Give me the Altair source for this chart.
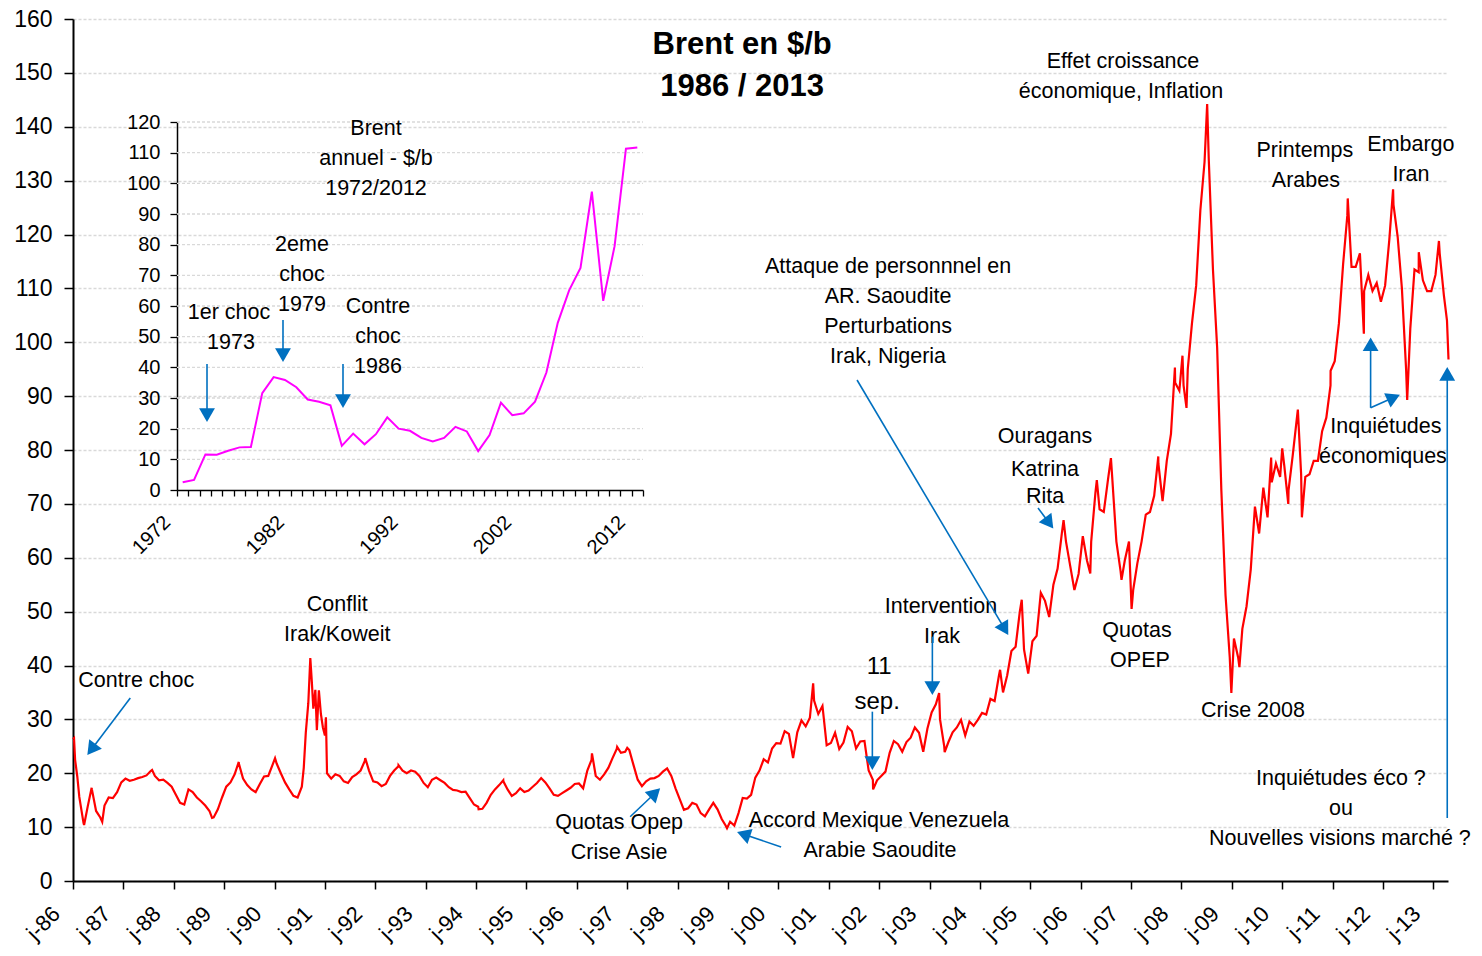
import math
import altair as alt
import pandas as pd

# ---------------- Main series (Brent, $/b) ----------------
# monthly levels (mid-month), one list per year
brent_1986 = [22.5, 15.6, 10.8, 13.8, 17.0, 13.0, 11.8, 14.0, 15.5, 15.4, 16.5, 18.3]
brent_1987 = [19.0, 18.6, 18.8, 19.1, 19.3, 19.6, 20.4, 19.5, 18.7, 18.8, 18.2, 17.5]
brent_1988 = [16.0, 14.5, 14.2, 17.0, 16.5, 15.5, 14.8, 14.0, 13.0, 11.8, 13.3, 15.5]
brent_1989 = [17.5, 18.3, 19.8, 21.8, 19.0, 17.8, 17.0, 16.5, 18.0, 19.4, 19.5, 21.5]
brent_1990 = [21.8, 20.0, 18.3, 17.0, 15.8, 15.5, 17.5]
brent_1991 = [20.0, 19.0, 19.8, 19.5, 18.5, 18.2, 19.3, 19.8, 20.5, 22.3, 20.5, 18.5]
brent_1992 = [18.3, 17.6, 18.0, 19.5, 20.5, 21.3, 20.5, 20.0, 20.5, 20.3, 19.5, 18.2]
brent_1993 = [17.4, 18.8, 19.2, 18.7, 18.2, 17.4, 16.9, 16.8, 16.5, 16.6, 15.4, 14.2]
brent_1994 = [13.8, 13.4, 14.5, 16.0, 17.0, 17.8, 18.5, 17.0, 15.8, 16.3, 17.2, 16.5]
brent_1995 = [16.8, 17.5, 18.2, 19.1, 18.3, 17.2, 16.0, 15.8, 16.3, 16.8, 17.3, 18.0]
brent_1996 = [18.1, 17.2, 20.5, 22.5, 19.5, 18.8, 19.8, 21.0, 22.8, 24.5, 23.8, 24.0]
brent_1997 = [24.3, 21.5, 18.8, 17.6, 18.5, 19.0, 19.1, 19.5, 20.3, 20.9, 19.5, 17.2]
brent_1998 = [15.2, 13.2, 13.5, 14.5, 14.2, 12.6, 12.0, 13.3, 14.5, 13.3, 11.5, 10.2]
brent_1999 = [11.0, 10.3, 12.6, 15.4, 15.3, 16.0, 19.2, 20.5, 22.6, 22.0, 24.6, 25.6]
brent_2000 = [25.5, 27.8, 27.3, 22.8, 27.6, 29.8, 28.7, 30.3, 33.5, 31.0, 32.5, 25.2]
brent_2001 = [25.6, 27.5, 24.5, 25.7, 28.6, 27.8, 24.6, 25.9, 26.0, 20.5, 18.8, 18.7]
brent_2002 = [19.5, 20.3, 23.8, 26.0, 25.4, 24.0, 25.8, 26.6, 28.5, 27.5, 24.0, 28.3]
brent_2003 = [31.3, 32.8, 30.0, 25.0, 25.8, 27.6, 28.5, 29.9, 27.0, 29.6, 28.8, 29.9]
brent_2004 = [31.2, 30.9, 33.8, 33.4, 38.0, 35.0, 38.2, 42.7, 43.5, 50.0, 43.0, 38.5]
brent_2005 = [44.5, 45.5, 53.5, 52.0, 49.0, 55.0, 58.0, 64.5, 63.0, 58.5, 54.0, 57.0]
brent_2006 = [64.0, 59.5, 63.0, 72.0, 69.0, 68.5, 74.5, 75.0, 63.0, 57.5, 59.5, 63.0]
brent_2007 = [54.0, 59.0, 63.0, 68.0, 68.5, 71.5, 77.5, 70.5, 78.0, 83.0, 92.5, 91.0]
brent_2008 = [92.0, 95.0, 103.5, 110.5, 124.5, 133.5, 134.0, 113.5, 99.0, 72.5, 53.0, 41.5]
brent_2009 = [45.0, 41.5, 46.8, 51.0, 57.8, 69.5, 64.5, 73.0, 67.5, 74.0, 77.5, 75.0]
brent_2010 = [77.0, 72.5, 79.0, 86.0, 75.5, 75.0, 75.5, 78.0, 78.0, 83.5, 86.0, 92.0]
brent_2011 = [96.5, 103.5, 114.5, 123.5, 114.0, 114.0, 116.5, 109.5, 112.5, 109.5, 111.0, 107.5]
brent_2012 = [110.5, 119.0, 125.5, 119.5, 110.0, 95.0, 102.5, 113.5, 113.0, 111.5, 109.5, 109.5]
brent_2013 = [112.5, 116.5, 108.7]

# visible daily extremes (decimal year, $/b)
extreme_t = [1986.0, 1986.02, 1986.085, 1986.22, 1986.37, 1986.58, 1987.57, 1988.76, 1989.29, 1990.01,
             1990.58, 1990.62, 1990.67, 1990.71, 1990.74, 1990.77, 1990.81, 1990.84, 1990.88, 1990.92, 1990.96, 1991.0, 1991.02,
             1991.80, 1992.46, 1994.05, 1994.54, 1996.30, 1996.80, 1997.00, 1998.98,
             2000.69, 2001.88, 2003.19, 2003.30, 2004.40, 2004.83, 2005.66, 2006.19, 2006.32, 2006.60, 2006.81,
             2007.01, 2007.54, 2007.87, 2008.02, 2008.10, 2008.51, 2008.99, 2009.15, 2009.78,
             2010.00, 2010.12, 2010.31, 2010.39, 2010.96, 2011.30, 2011.62,
             2012.20, 2012.48, 2012.71, 2013.11, 2013.27, 2013.30]
extreme_v = [26.3, 26.5, 19.4, 10.4, 17.3, 11.0, 20.6, 11.7, 22.1, 22.8,
             21.0, 27.5, 33.0, 41.4, 37.0, 32.0, 35.5, 28.0, 35.4, 31.0, 28.5, 27.0, 30.4,
             22.8, 21.5, 13.3, 18.7, 23.7, 24.9, 24.7, 9.8,
             36.7, 17.0, 34.9, 23.9, 39.2, 52.2, 67.0, 57.1, 74.4, 78.5, 55.9,
             50.5, 78.8, 95.3, 97.5, 87.8, 144.2, 34.9, 39.7, 78.6,
             80.3, 70.0, 87.5, 67.5, 94.7, 126.7, 101.6,
             128.4, 89.3, 116.7, 118.8, 104.0, 96.8]

# ---------------- Inset: annual Brent 1972-2012 ----------------
inset_years = list(range(1972, 2013))
inset_values = [2.5, 3.3, 11.6, 11.5, 12.8, 13.9, 14.0, 31.6, 36.8, 35.9,
                33.5, 29.5, 28.8, 27.6, 14.4, 18.4, 14.9, 18.2, 23.7, 20.0,
                19.3, 17.0, 15.8, 17.0, 20.6, 19.1, 12.7, 17.9, 28.5, 24.4,
                25.0, 28.8, 38.3, 54.5, 65.1, 72.4, 97.3, 61.7, 79.5, 111.3, 111.7]

# ---------------- Annotations (data coordinates) ----------------
title_lines = ["Brent en $/b", "1986 / 2013"]
title_t = [1999.28, 1999.28]
title_v = [155.17, 147.38]

note_text = ["Contre choc", "Conflit", "Irak/Koweit", "Quotas Opep", "Crise Asie",
             "Accord Mexique Venezuela", "Arabie Saoudite", "11", "sep.",
             "Intervention", "Irak", "Attaque de personnnel en", "AR. Saoudite",
             "Perturbations", "Irak, Nigeria", "Ouragans", "Katrina", "Rita",
             "Quotas", "OPEP", "Effet croissance", "économique, Inflation",
             "Crise 2008", "Printemps", "Arabes", "Embargo", "Iran",
             "Inquiétudes", "économiques", "Inquiétudes éco ?", "ou",
             "Nouvelles visions marché ?"]
note_t = [1987.256, 1991.244, 1991.244, 1996.839, 1996.839,
          2001.998, 2002.017, 2002.0, 2001.96,
          2003.228, 2003.248, 2002.177, 2002.177,
          2002.177, 2002.177, 2005.292, 2005.292, 2005.292,
          2007.117, 2007.177, 2006.839, 2006.80,
          2009.418, 2010.45, 2010.47, 2012.554, 2012.554,
          2012.058, 2011.998, 2011.165, 2011.165,
          2011.145]
note_v = [37.12, 51.23, 45.66, 10.77, 5.20,
          11.14, 5.57, 39.72, 33.23,
          50.86, 45.29, 113.97, 108.40,
          102.83, 97.26, 82.41, 76.29, 71.28,
          46.40, 40.84, 152.02, 146.45,
          31.55, 135.50, 129.93, 136.61, 131.04,
          84.27, 78.70, 18.93, 13.36,
          7.80]
note_size = [21.5, 21.5, 21.5, 21.5, 21.5, 21.5, 21.5, 24, 24, 21.5, 21.5, 21.5, 21.5, 21.5,
             21.5, 21.5, 21.5, 21.5, 21.5, 21.5, 21.5, 21.5, 21.5, 21.5, 21.5, 21.5, 21.5,
             21.5, 21.5, 21.5, 21.5, 21.5]

arrow_t1 = [1987.137, 1997.058, 2000.054, 2001.865, 2003.056, 2001.561, 2005.153, 2011.754, 2011.754, 2013.275]
arrow_v1 = [33.97, 11.93, 6.31, 31.43, 45.35, 92.99, 69.23, 87.83, 87.83, 11.69]
arrow_t2 = [1986.284, 1997.653, 1999.18, 2001.865, 2003.056, 2004.563, 2005.456, 2011.754, 2012.335, 2013.275]
arrow_v2 = [23.39, 17.21, 9.10, 20.6, 34.52, 45.66, 65.43, 100.90, 90.25, 95.41]

inset_note_text = ["Brent", "annuel - $/b", "1972/2012", "2eme", "choc", "1979",
                   "1er choc", "1973", "Contre", "choc", "1986"]
inset_note_x = [1989.008, 1989.008, 1989.008, 1982.498, 1982.498, 1982.498,
                1976.075, 1976.25, 1989.184, 1989.184, 1989.184]
inset_note_v = [117.72, 107.93, 98.15, 79.89, 70.11, 60.33,
                57.72, 47.93, 59.67, 49.89, 40.11]

inset_arrow_x = [1974.14, 1980.826, 1986.105]
inset_arrow_v1 = [41.09, 55.43, 41.09]
inset_arrow_v2 = [22.17, 41.74, 26.74]

# ---------------- Layout constants ----------------
PAD = {"left": 65, "top": 11, "right": 26, "bottom": 64}
W, H = 1375, 862
X0, X1 = 1986.0, 2013.29
PPX = W / (X1 - X0)
PPY = H / 160.0
IN_X0, IN_X1 = 1971.5, 2012.5
IN_RX = [104, 570]
IN_RY = [471, 103]
IN_PPX = (IN_RX[1] - IN_RX[0]) / (IN_X1 - IN_X0)
IN_PPY = (IN_RY[0] - IN_RY[1]) / 120.0
FONT = "Liberation Sans"
BLUE = "#0070C0"
HEAD = 250

# ---------------- Build tables ----------------
yearly = {1986: brent_1986, 1987: brent_1987, 1988: brent_1988, 1989: brent_1989,
          1990: brent_1990, 1991: brent_1991, 1992: brent_1992, 1993: brent_1993,
          1994: brent_1994, 1995: brent_1995, 1996: brent_1996, 1997: brent_1997,
          1998: brent_1998, 1999: brent_1999, 2000: brent_2000, 2001: brent_2001,
          2002: brent_2002, 2003: brent_2003, 2004: brent_2004, 2005: brent_2005,
          2006: brent_2006, 2007: brent_2007, 2008: brent_2008, 2009: brent_2009,
          2010: brent_2010, 2011: brent_2011, 2012: brent_2012, 2013: brent_2013}
pts = []
for yr, vals in yearly.items():
    for i, v in enumerate(vals):
        pts.append((yr + (i + 0.5) / 12.0, v))
pts += list(zip(extreme_t, extreme_v))
pts.sort()
series_df = pd.DataFrame(pts, columns=["t", "v"])

inset_df = pd.DataFrame({"t": inset_years, "v": inset_values})


def arrows(x1, y1, x2, y2, ppx, ppy):
    h = math.sqrt(3) * math.sqrt(HEAD) / 4.0
    lines, heads = [], []
    for a, b, c, d in zip(x1, y1, x2, y2):
        dx = (c - a) * ppx
        dy = -(d - b) * ppy
        L = math.hypot(dx, dy)
        ux, uy = dx / L, dy / L
        cx = c - h * ux / ppx
        cy = d + h * uy / ppy
        ang = math.degrees(math.atan2(ux, -uy)) % 360
        lines.append({"t": a, "v": b, "t2": cx, "v2": cy})
        heads.append({"t": cx, "v": cy, "ang": ang})
    return pd.DataFrame(lines), pd.DataFrame(heads)


main_lines, main_heads = arrows(arrow_t1, arrow_v1, arrow_t2, arrow_v2, PPX, PPY)
in_lines, in_heads = arrows(inset_arrow_x, inset_arrow_v1, inset_arrow_x, inset_arrow_v2, IN_PPX, IN_PPY)

notes_df = pd.DataFrame({"t": note_t, "v": note_v, "label": note_text, "fs": note_size})
title_df = pd.DataFrame({"t": title_t, "v": title_v, "label": title_lines})
in_notes_df = pd.DataFrame({"t": inset_note_x, "v": inset_note_v, "label": inset_note_text})
in_grid_df = pd.DataFrame({"v": list(range(10, 121, 10)), "t": IN_X0, "t2": IN_X1})

# ---------------- Main chart ----------------
def xs():
    return alt.Scale(domain=[X0, X1], nice=False, zero=False)


def ys():
    return alt.Scale(domain=[0, 160], nice=False, zero=False)


x_axis = alt.Axis(orient="bottom", values=list(range(1986, 2014)),
                  labelExpr="'j-' + substring(toString(datum.value), 2)",
                  labelAngle=315, labelAlign="right", labelBaseline="middle",
                  labelFontSize=22, labelColor="black", labelPadding=21, labelOffset=-17,
                  labelOverlap=False, labelFlush=False, labelBound=False,
                  tickSize=8, tickColor="black", tickWidth=1.5,
                  domainColor="black", domainWidth=2, grid=False, title=None)
y_axis = alt.Axis(orient="left", values=list(range(0, 161, 10)),
                  labelFontSize=23, labelColor="black", labelPadding=12,
                  labelFlush=False, labelOverlap=False,
                  tickSize=9, tickColor="black", tickWidth=1.5,
                  domainColor="black", domainWidth=2,
                  grid=True, gridColor="#d9d9d9", gridDash=[3, 2], gridWidth=1.3,
                  title=None)

main_line = alt.Chart(series_df).mark_line(color="#FF0000", strokeWidth=2.2).encode(
    x=alt.X("t:Q", scale=xs(), axis=x_axis),
    y=alt.Y("v:Q", scale=ys(), axis=y_axis),
)
main_notes = alt.Chart(notes_df).mark_text(color="black", align="center", baseline="middle").encode(
    x=alt.X("t:Q", scale=xs(), axis=None),
    y=alt.Y("v:Q", scale=ys(), axis=None),
    text="label:N",
    size=alt.Size("fs:Q", scale=None),
)
main_title = alt.Chart(title_df).mark_text(color="black", align="center", baseline="middle",
                                           fontSize=31, fontWeight="bold").encode(
    x=alt.X("t:Q", scale=xs(), axis=None),
    y=alt.Y("v:Q", scale=ys(), axis=None),
    text="label:N",
)
main_arrow_lines = alt.Chart(main_lines).mark_rule(color=BLUE, strokeWidth=1.6).encode(
    x=alt.X("t:Q", scale=xs(), axis=None), y=alt.Y("v:Q", scale=ys(), axis=None),
    x2="t2:Q", y2="v2:Q",
)
main_arrow_heads = alt.Chart(main_heads).mark_point(shape="triangle-up", filled=True, color=BLUE,
                                                    opacity=1, size=HEAD, strokeWidth=0).encode(
    x=alt.X("t:Q", scale=xs(), axis=None), y=alt.Y("v:Q", scale=ys(), axis=None),
    angle=alt.Angle("ang:Q", scale=None),
)

# ---------------- Inset chart ----------------
def ixs():
    return alt.Scale(domain=[IN_X0, IN_X1], range=IN_RX, nice=False, zero=False)


def iys():
    return alt.Scale(domain=[0, 120], range=IN_RY, nice=False, zero=False)


ix_axis = alt.Axis(orient="bottom", offset=-(H - IN_RY[0]),
                   values=[IN_X0 + i for i in range(42)],
                   labelExpr="((datum.value + 0.5) % 10 == 2) ? toString(datum.value + 0.5) : ''",
                   labelAngle=315, labelAlign="right", labelBaseline="middle",
                   labelFontSize=20, labelColor="black", labelPadding=23, labelOffset=-10,
                   labelOverlap=False, labelFlush=False, labelBound=False,
                   tickSize=6, tickColor="black", tickWidth=1.3,
                   domainColor="black", domainWidth=1.5, grid=False, title=None)
iy_axis = alt.Axis(orient="left", offset=-IN_RX[0], values=list(range(0, 121, 10)),
                   labelFontSize=20, labelColor="black", labelPadding=10,
                   labelFlush=False, labelOverlap=False,
                   tickSize=7, tickColor="black", tickWidth=1.3,
                   domainColor="black", domainWidth=1.5, grid=False, title=None)

in_grid = alt.Chart(in_grid_df).mark_rule(color="#d9d9d9", strokeDash=[3, 2], strokeWidth=1.3).encode(
    x=alt.X("t:Q", scale=ixs(), axis=None), x2="t2:Q",
    y=alt.Y("v:Q", scale=iys(), axis=None),
)
in_line = alt.Chart(inset_df).mark_line(color="#FF00FF", strokeWidth=2).encode(
    x=alt.X("t:Q", scale=ixs(), axis=ix_axis),
    y=alt.Y("v:Q", scale=iys(), axis=iy_axis),
)
in_notes = alt.Chart(in_notes_df).mark_text(color="black", align="center", baseline="middle",
                                            fontSize=21.5).encode(
    x=alt.X("t:Q", scale=ixs(), axis=None),
    y=alt.Y("v:Q", scale=iys(), axis=None),
    text="label:N",
)
in_arrow_lines = alt.Chart(in_lines).mark_rule(color=BLUE, strokeWidth=1.6).encode(
    x=alt.X("t:Q", scale=ixs(), axis=None), y=alt.Y("v:Q", scale=iys(), axis=None),
    x2="t2:Q", y2="v2:Q",
)
in_arrow_heads = alt.Chart(in_heads).mark_point(shape="triangle-up", filled=True, color=BLUE,
                                                opacity=1, size=HEAD, strokeWidth=0).encode(
    x=alt.X("t:Q", scale=ixs(), axis=None), y=alt.Y("v:Q", scale=iys(), axis=None),
    angle=alt.Angle("ang:Q", scale=None),
)

chart = alt.layer(
    main_line, main_title, main_notes, main_arrow_lines, main_arrow_heads,
    in_grid, in_line, in_notes, in_arrow_lines, in_arrow_heads,
).resolve_scale(x="independent", y="independent").properties(
    width=W, height=H, padding=PAD, autosize=alt.AutoSizeParams(type="none"),
    background="white",
).configure(font=FONT).configure_view(stroke=None)

chart.save("out.html", embed_options={"renderer": "svg", "actions": False})
